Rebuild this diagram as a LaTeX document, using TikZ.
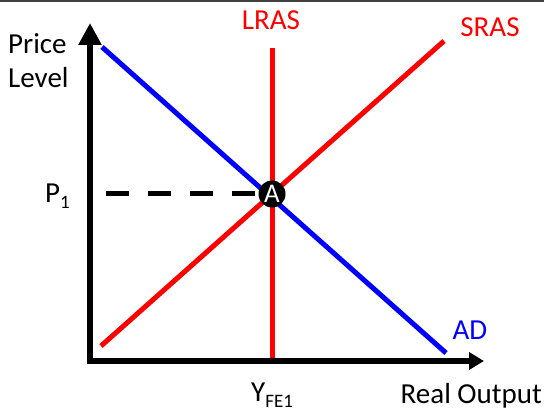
\documentclass[tikz,border=0pt]{standalone}
\usepackage{fontspec}
\setmainfont{Carlito}
\usetikzlibrary{arrows.meta}
\definecolor{adblue}{RGB}{0,0,255}
\definecolor{asred}{RGB}{255,0,0}
\newcommand{\lbl}{\fontsize{29}{34}\selectfont}
\newcommand{\subl}[1]{{\fontsize{19}{21}\selectfont\raisebox{-6pt}{#1}}}
\begin{document}
\begin{tikzpicture}[x=1pt,y=-1pt,
  curve/.style={line width=5pt},
  axis/.style={line width=6pt},
  txt/.style={inner sep=0pt,font=\lbl},
  ptA/.style={circle,fill=black,text=white,inner sep=0pt,minimum size=27pt,font=\fontsize{27}{28}\selectfont}]
\useasboundingbox (0,0) rectangle (544,414);
\draw[line width=2pt,black!75] (0,1) -- (544,1);
% coordinates
\coordinate (yb) at (90,364);
\coordinate (yt) at (90,23);
\coordinate (xl) at (87,361);
\coordinate (xr) at (484,361);
\coordinate (ad1) at (102,47);
\coordinate (ad2) at (446,353);
\coordinate (sr1) at (101,346);
\coordinate (sr2) at (444,41);
\coordinate (lr1) at (272,48);
\coordinate (lr2) at (272,361);
\coordinate (ds) at (106,193.5);
\coordinate (de) at (259,193.5);
% curves
\draw[curve,adblue] (ad1) -- (ad2);
\draw[curve,asred] (sr1) -- (sr2);
\draw[curve,asred] (lr1) -- (lr2);
\draw[curve,dash pattern=on 23pt off 19pt] (ds) -- (de);
% axes
\draw[axis,-{Triangle[length=22pt,width=22pt]}] (yb) -- (yt);
\draw[axis,-{Triangle[length=15pt,width=17pt]}] (xl) -- (xr);
% point A
\node[ptA] (A) at (272,194) {A};
% labels
\node[txt,anchor=base west] (price) at (8,54) {Price};
\node[txt,anchor=base west] (level) at (8,88) {Level};
\node[txt,anchor=base,text=asred] (lras) at (271,30) {LRAS};
\node[txt,anchor=base,text=asred] (sras) at (490,37) {SRAS};
\node[txt,anchor=base,text=adblue] (ad) at (470,339) {AD};
\node[txt,anchor=base west] (p1) at (45,203) {P\subl{1}};
\node[txt,anchor=base west] (yfe) at (251,401) {Y\subl{FE1}};
\node[txt,anchor=base east] (ro) at (542,403) {Real Output};
\end{tikzpicture}
\end{document}
